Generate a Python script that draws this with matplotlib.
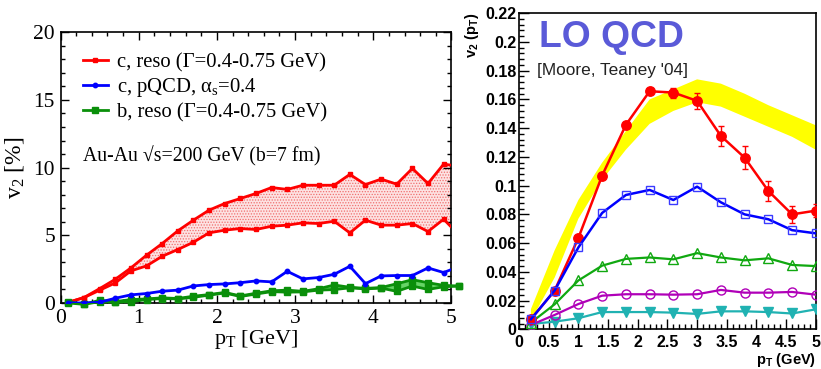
import numpy as np
import matplotlib
matplotlib.use("Agg")
import matplotlib.pyplot as plt
from matplotlib.ticker import MultipleLocator

plt.rcParams['mathtext.default'] = 'regular'
plt.rcParams['hatch.linewidth'] = 0.6

# ---------------- left panel: v2 [%] of heavy quarks ----------------
pt_left = [0.1, 0.3, 0.5, 0.7, 0.9, 1.1, 1.3, 1.5, 1.7, 1.9, 2.1, 2.3, 2.5,
           2.7, 2.9, 3.1, 3.3, 3.5, 3.7, 3.9, 4.1, 4.3, 4.5, 4.7, 4.9, 5.1]
c_reso_hi = [0.05, 0.4, 1.06, 1.75, 2.59, 3.53, 4.39, 5.33, 6.12, 6.86, 7.35,
             7.72, 8.09, 8.53, 8.39, 8.7, 8.7, 8.7, 9.5, 8.75, 9.15, 8.78,
             9.94, 8.83, 10.26, 10.1]
c_reso_lo = [0.05, 0.4, 0.94, 1.48, 2.37, 2.74, 3.45, 3.95, 4.49, 5.18, 5.38,
             5.5, 5.43, 5.67, 5.75, 5.92, 5.87, 6.04, 5.18, 6.12, 5.75, 5.75,
             5.87, 5.28, 6.19, 5.0]
c_pqcd = [0.0, 0.0, 0.05, 0.35, 0.6, 0.7, 0.87, 0.95, 1.26, 1.36, 1.41, 1.5,
          1.63, 1.56, 2.34, 1.78, 1.88, 2.12, 2.71, 1.43, 2.0, 2.03, 2.03,
          2.59, 2.25, 2.7]
b_reso_hi = [0.1, -0.1, 0.2, 0.1, 0.25, 0.3, 0.38, 0.33, 0.5, 0.62, 0.78,
             0.52, 0.72, 0.9, 0.95, 0.86, 1.05, 1.33, 1.16, 1.08, 1.14, 1.42,
             1.72, 1.5, 1.3, 1.25]
b_reso_lo = [0.0, -0.1, 0.1, 0.05, 0.1, 0.25, 0.33, 0.3, 0.42, 0.58, 0.74,
             0.48, 0.66, 0.84, 0.8, 0.82, 0.95, 0.99, 1.12, 1.04, 1.1, 0.86,
             1.25, 1.0, 1.2, 1.25]

legend_labels = ["c, reso (Γ=0.4-0.75 GeV)",
                 "c, pQCD, α$_s$=0.4",
                 "b, reso (Γ=0.4-0.75 GeV)"]
system_label = "Au-Au √s=200 GeV (b=7 fm)"

# ---------------- right panel: LO QCD ----------------
pt_right = [0.2, 0.6, 1.0, 1.4, 1.8, 2.2, 2.6, 3.0, 3.4, 3.8, 4.2, 4.6, 5.0]
v2_red = [0.007, 0.027, 0.0636, 0.107, 0.1423, 0.1657, 0.1648, 0.159, 0.1346,
          0.1195, 0.0963, 0.080, 0.0826]
v2_red_err = [0.001, 0.001, 0.001, 0.001, 0.0015, 0.002, 0.0035, 0.0055,
              0.0071, 0.0081, 0.007, 0.0061, 0.0045]
v2_blue = [0.007, 0.027, 0.057, 0.081, 0.0935, 0.097, 0.090, 0.0993, 0.0884,
           0.080, 0.0766, 0.069, 0.0668]
v2_green = [0.0046, 0.0174, 0.034, 0.0443, 0.049, 0.050, 0.0487, 0.053, 0.050,
            0.048, 0.0494, 0.0448, 0.044]
v2_magenta = [0.003, 0.010, 0.0176, 0.0234, 0.0244, 0.0244, 0.0241, 0.0244,
              0.0274, 0.0255, 0.0255, 0.026, 0.0241]
v2_cyan = [0.0037, 0.0053, 0.0077, 0.012, 0.012, 0.012, 0.0116, 0.0107,
           0.0125, 0.0125, 0.012, 0.011, 0.0139]
band_hi = [0.014, 0.055, 0.090, 0.116, 0.138, 0.160, 0.167, 0.174, 0.171,
           0.164, 0.156, 0.149, 0.142]
band_lo = [0.006, 0.036, 0.077, 0.104, 0.125, 0.143, 0.152, 0.158, 0.155,
           0.148, 0.141, 0.134, 0.125]

SERIF = ['Liberation Serif', 'DejaVu Serif']
SANS = ['Liberation Sans', 'DejaVu Sans']

fig = plt.figure(figsize=(8.21, 3.69), dpi=100)

# ---------- left axes ----------
axL = fig.add_axes([0.0737, 0.1789, 0.4762, 0.7336])
red, blue, green = '#ff0000', '#0000ff', '#0a8f0a'

axL.fill_between(pt_left, c_reso_lo, c_reso_hi, facecolor='#fde2e2',
                 edgecolor='#f07070', hatch='......', linewidth=0, zorder=1)
axL.fill_between(pt_left, b_reso_lo, b_reso_hi, facecolor='#66d466',
                 linewidth=0, zorder=1)
axL.axhline(0, color='#a8e6a8', lw=1.0, zorder=0.5)

axL.plot(pt_left, c_reso_hi, '-s', color=red, lw=2, ms=3.2, zorder=3,
         label=legend_labels[0])
axL.plot(pt_left, c_reso_lo, '-s', color=red, lw=2, ms=3.2, zorder=3)
axL.plot(pt_left, c_pqcd, '-o', color=blue, lw=2, ms=3.2, zorder=4,
         label=legend_labels[1])
axL.plot(pt_left, b_reso_hi, '-s', color=green, lw=2, ms=4.5, zorder=3,
         label=legend_labels[2], clip_on=False)
axL.plot(pt_left, b_reso_lo, '-s', color=green, lw=2, ms=4.5, zorder=3,
         clip_on=False)

axL.set_xlim(0, 5)
axL.set_ylim(0, 20)
axL.xaxis.set_major_locator(MultipleLocator(1))
axL.xaxis.set_minor_locator(MultipleLocator(0.2))
axL.yaxis.set_major_locator(MultipleLocator(5))
axL.yaxis.set_minor_locator(MultipleLocator(1))
axL.tick_params(which='both', direction='in', top=True, right=True,
                width=1.0, labelsize=15.5, pad=4)
axL.tick_params(which='major', length=6)
axL.tick_params(which='minor', length=3)
for lab in axL.get_xticklabels() + axL.get_yticklabels():
    lab.set_family(SERIF)
for s in axL.spines.values():
    s.set_linewidth(1.2)

axL.set_xlabel("p$_T$ [GeV]", family=SERIF, fontsize=16, labelpad=0)
axL.set_ylabel("v$_2$ [%]", family=SERIF, fontsize=17, labelpad=5)

leg = axL.legend(loc='upper left', bbox_to_anchor=(0.0575, 0.925),
                 frameon=False, prop={'family': SERIF, 'size': 14.9},
                 handlelength=1.2, handletextpad=0.45, labelspacing=0.18,
                 borderaxespad=0, borderpad=0)
axL.text(0.29, 10.85, system_label, family=SERIF, fontsize=14.2,
         va='center', ha='left')

# ---------- right axes ----------
axR = fig.add_axes([0.6322, 0.1076, 0.3615, 0.8565])
axR.fill_between(pt_right, band_lo, band_hi, facecolor='#ffff00',
                 linewidth=0, zorder=1)

axR.plot(pt_right, v2_cyan, '-v', color='#20b2b2', lw=1.6, ms=6.5,
         mfc='#20b2b2', mec='#20b2b2', zorder=3)
axR.plot(pt_right, v2_magenta, '-o', color='#b000b8', lw=1.6, ms=6.5,
         mfc='none', mec='#b000b8', mew=1.0, zorder=3)
axR.plot(pt_right, v2_green, '-^', color='#10a810', lw=1.6, ms=6.5,
         mfc='none', mec='#10a810', mew=1.0, zorder=3)
axR.plot(pt_right, v2_red, '-', color=red, lw=1.8, zorder=4)
axR.errorbar(pt_right, v2_red, yerr=v2_red_err, fmt='o', color=red,
             ms=6.8, elinewidth=1.0, capsize=2, capthick=1.0, zorder=5)
axR.plot(pt_right, v2_blue, '-s', color='#0000ff', lw=1.8, ms=6.2,
         mfc='none', mec='#3a3aff', mew=1.0, zorder=6)

axR.set_xlim(0, 5)
axR.set_ylim(0, 0.22)
axR.xaxis.set_major_locator(MultipleLocator(0.5))
axR.xaxis.set_minor_locator(MultipleLocator(0.1))
axR.yaxis.set_major_locator(MultipleLocator(0.02))
axR.yaxis.set_minor_locator(MultipleLocator(0.004))
axR.xaxis.set_major_formatter(plt.FuncFormatter(lambda v, p: f"{v:g}"))
axR.yaxis.set_major_formatter(plt.FuncFormatter(lambda v, p: f"{v:g}"))
axR.tick_params(which='both', direction='in', width=1.0, labelsize=11.5)
axR.tick_params(axis='y', which='major', length=7, pad=2)
axR.tick_params(axis='y', which='minor', length=3.5)
axR.tick_params(axis='x', which='major', length=7, pad=4)
axR.tick_params(axis='x', which='minor', length=3.5)
for lab in axR.get_xticklabels() + axR.get_yticklabels():
    lab.set_family(SANS)
    lab.set_fontweight('bold')
for s in axR.spines.values():
    s.set_linewidth(1.2)

axR.set_xlabel("p$_T$ (GeV)", family=SANS, fontweight='bold', fontsize=10.5,
               loc='right', labelpad=1)
axR.set_ylabel("v$_2$ (p$_T$)", family=SANS, fontweight='bold', fontsize=10.5,
               loc='top', labelpad=3)

axR.text(0.34, 0.2153, "LO QCD", family=SANS, fontweight='bold',
         fontsize=26.8, color='#5a5ad8', va='top', ha='left')
axR.text(0.31, 0.180, "[Moore, Teaney '04]", family=SANS, fontsize=12.4,
         color='#222222', va='center', ha='left')

fig.savefig("out.png", dpi=100)
